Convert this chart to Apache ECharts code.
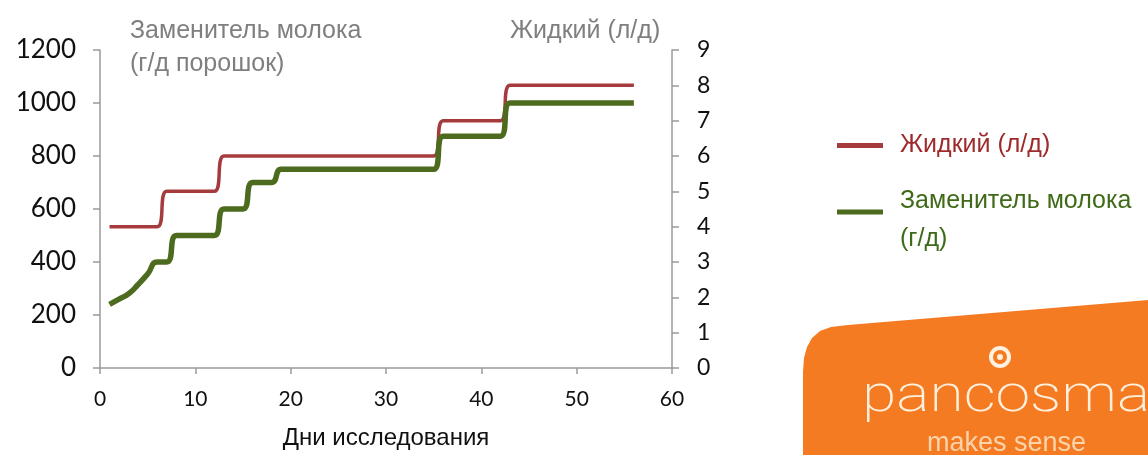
<!DOCTYPE html>
<html>
<head>
<meta charset="utf-8">
<script src="https://cdn.jsdelivr.net/npm/echarts@6/dist/echarts.min.js"></script>
<style>html,body{margin:0;padding:0;background:#fff;}#c{width:1148px;height:455px;}</style>
</head>
<body>
<div id="c"></div>
<script>
// Study days
var days = [1,2,3,4,5,6,7,8,9,10,11,12,13,14,15,16,17,18,19,20,21,22,23,24,25,26,27,28,
            29,30,31,32,33,34,35,36,37,38,39,40,41,42,43,44,45,46,47,48,49,50,51,52,53,54,55,56];
// Liquid, L/day (right axis)
var liquid = [4,4,4,4,4,4,5,5,5,5,5,5,6,6,6,6,6,6,6,6,6,6,6,6,6,6,6,6,
              6,6,6,6,6,6,6,7,7,7,7,7,7,7,8,8,8,8,8,8,8,8,8,8,8,8,8,8];
// Milk replacer, g/day powder (left axis)
var replacer = [240,260,280,315,355,400,400,500,500,500,500,500,600,600,600,700,700,700,750,750,750,750,750,750,750,750,750,750,
                750,750,750,750,750,750,750,875,875,875,875,875,875,875,1000,1000,1000,1000,1000,1000,1000,1000,1000,1000,1000,1000,1000,1000];
var xTicks = [0,10,20,30,40,50,60];
var leftTicks = [0,200,400,600,800,1000,1200];
var rightTicks = [0,1,2,3,4,5,6,7,8,9];
var nameLiquid = 'Жидкий (л/д)';
var nameReplacer = 'Заменитель молока (г/д)';
var legendLines = {};
legendLines[nameLiquid] = '{r|Жидкий (л/д)}';
legendLines[nameReplacer] = '{s| }\n{g|Заменитель молока}\n{g|(г/д)}';

function pairs(xs, ys){ return xs.map(function(x,i){ return [x, ys[i]]; }); }

var chart = echarts.init(document.getElementById('c'));
var axisColor = '#9a9a9a';
var numFont = 'Lato';
chart.setOption({
  animation: false,
  grid: {left: 100, right: 476, top: 50, bottom: 84},
  xAxis: {
    type: 'value', min: xTicks[0], max: xTicks[xTicks.length-1], interval: 10,
    name: 'Дни исследования', nameLocation: 'middle', nameGap: 58,
    nameTextStyle: {fontFamily: 'Liberation Sans', fontSize: 24, color: '#111'},
    axisLine: {show: true, lineStyle: {color: axisColor, width: 1.5}},
    axisTick: {show: true, length: 6, lineStyle: {color: axisColor, width: 1.5}},
    axisLabel: {fontFamily: numFont, fontSize: 21, color: '#111', margin: 21},
    splitLine: {show: false}
  },
  yAxis: [{
    type: 'value', min: leftTicks[0], max: leftTicks[leftTicks.length-1], interval: 200,
    axisLine: {show: true, lineStyle: {color: axisColor, width: 1.5}},
    axisTick: {show: true, length: 7, lineStyle: {color: axisColor, width: 1.5}},
    axisLabel: {fontFamily: numFont, fontSize: 26, color: '#111', margin: 24,
                formatter: function(v){ return String(v); }},
    splitLine: {show: false}
  },{
    type: 'value', position: 'right', min: rightTicks[0], max: rightTicks[rightTicks.length-1], interval: 1,
    axisLine: {show: true, lineStyle: {color: axisColor, width: 1.5}},
    axisTick: {show: true, length: 7, lineStyle: {color: axisColor, width: 1.5}},
    axisLabel: {fontFamily: numFont, fontSize: 23, color: '#111', margin: 25},
    splitLine: {show: false}
  }],
  legend: {
    orient: 'vertical', left: 832, top: 128, icon: 'rect', itemWidth: 46, itemHeight: 5, itemGap: 11,
    formatter: function(name){ return legendLines[name]; },
    textStyle: {
      padding: [0,0,0,12],
      rich: {
        r: {fontFamily: 'Liberation Sans', fontSize: 25, lineHeight: 38, color: '#9e2a2b'},
        g: {fontFamily: 'Liberation Sans', fontSize: 25, lineHeight: 38, color: '#3f6a18'},
        s: {fontSize: 10, lineHeight: 16}
      }
    },
    data: [
      {name: nameLiquid, itemStyle: {color: '#a53b3c'}},
      {name: nameReplacer, itemStyle: {color: '#4d6b1e'}}
    ]
  },
  series: [{
    name: nameLiquid, type: 'line', yAxisIndex: 1, smooth: 0.55, showSymbol: false,
    data: pairs(days, liquid),
    lineStyle: {color: '#a53b3c', width: 3.5}, itemStyle: {color: '#a53b3c'}
  },{
    name: nameReplacer, type: 'line', yAxisIndex: 0, smooth: 0.55, showSymbol: false,
    data: pairs(days, replacer),
    lineStyle: {color: '#4d6b1e', width: 5.5}, itemStyle: {color: '#4d6b1e'}
  }],
  graphic: [
    {type: 'text', left: 130, top: 15, style: {text: 'Заменитель молока\n(г/д порошок)', fontFamily: 'Liberation Sans', fontSize: 25, lineHeight: 33, fill: '#7f7f7f'}},
    {type: 'text', left: 510, top: 15, style: {text: 'Жидкий (л/д)', fontFamily: 'Liberation Sans', fontSize: 25, lineHeight: 33, fill: '#7f7f7f'}},
    {type: 'polygon', shape: {points: [[803,455],[803,372],[804,358],[807,347],[812,338],[820,331],[831,327],[848,325],[1148,300],[1148,455]]}, style: {fill: '#f47b22'}},
    {type: 'circle', shape: {cx: 1000, cy: 357, r: 9}, style: {fill: 'none', stroke: '#fff1e0', lineWidth: 4}},
    {type: 'circle', shape: {cx: 1000, cy: 357, r: 3}, style: {fill: '#fff1e0'}},
    {type: 'text', x: 862, y: 424, scaleX: 1.2, style: {text: 'pancosma', fontFamily: 'Roboto', fontWeight: 200, fontSize: 52, fill: '#fff0de', textVerticalAlign: 'bottom'}},
    {type: 'text', x: 927, y: 444, style: {text: 'makes sense', fontFamily: 'Liberation Sans', fontSize: 27, fill: '#fdd3ac', textVerticalAlign: 'middle'}}
  ]
});
</script>
</body>
</html>
